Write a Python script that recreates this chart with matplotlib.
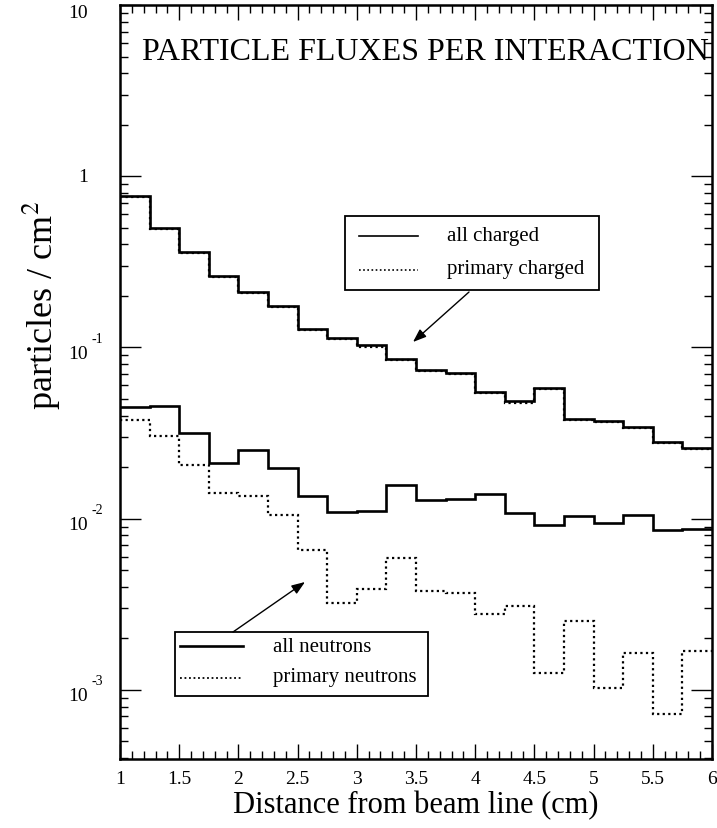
import numpy as np
import matplotlib
matplotlib.use("Agg")
import matplotlib.pyplot as plt
from matplotlib.ticker import MultipleLocator, LogLocator, NullFormatter
from matplotlib.patches import Rectangle, FancyArrowPatch
from matplotlib.lines import Line2D

plt.rcParams['font.family'] = ['Liberation Serif', 'DejaVu Serif']
plt.rcParams['mathtext.fontset'] = 'stix'

bin_edges = [1.0, 1.25, 1.5, 1.75, 2.0, 2.25, 2.5, 2.75, 3.0, 3.25, 3.5,
             3.75, 4.0, 4.25, 4.5, 4.75, 5.0, 5.25, 5.5, 5.75, 6.0]

all_charged = [0.77, 0.50, 0.36, 0.261, 0.21, 0.175, 0.128, 0.114, 0.103, 0.0862,
               0.074, 0.0714, 0.0553, 0.0485, 0.0583, 0.0381, 0.0372, 0.0343, 0.0282, 0.026]
primary_charged = [0.76, 0.495, 0.355, 0.257, 0.207, 0.172, 0.126, 0.112, 0.101, 0.0850,
                   0.0728, 0.0703, 0.0545, 0.0475, 0.0575, 0.0375, 0.0366, 0.0337, 0.0278, 0.0256]
all_neutrons = [0.045, 0.0456, 0.0318, 0.0212, 0.0252, 0.0199, 0.0136, 0.0110, 0.0111, 0.0157,
                0.01285, 0.0131, 0.0140, 0.0108, 0.00918, 0.0103, 0.0094, 0.01055, 0.00858, 0.00875]
primary_neutrons = [0.0376, 0.0304, 0.0205, 0.0142, 0.01356, 0.01045, 0.00653, 0.0032, 0.0039, 0.00591,
                    0.00376, 0.00366, 0.00277, 0.00311, 0.00126, 0.00253, 0.00103, 0.00165, 0.000727, 0.00168]

title = "PARTICLE FLUXES PER INTERACTION"
xlabel = "Distance from beam line (cm)"
ylabel = "particles / cm$^2$"
legend1 = ["all charged", "primary charged"]
legend2 = ["all neutrons", "primary neutrons"]
xticks = [1, 1.5, 2, 2.5, 3, 3.5, 4, 4.5, 5, 5.5, 6]
xticklabels = ["1", "1.5", "2", "2.5", "3", "3.5", "4", "4.5", "5", "5.5", "6"]

W, H = 717, 829
fig = plt.figure(figsize=(W / 100, H / 100), dpi=100)
ax_l, ax_r, ax_b, ax_t = 120, 712, 760, 6
ax = fig.add_axes([ax_l / W, 1 - ax_b / H, (ax_r - ax_l) / W, (ax_b - ax_t) / H])

dot = (0, (1, 1.5))
ax.stairs(primary_charged, bin_edges, color='black', lw=1.6, linestyle=dot, baseline=None)
ax.stairs(all_charged, bin_edges, color='black', lw=1.9, baseline=None)
ax.stairs(all_neutrons, bin_edges, color='black', lw=1.9, baseline=None)
ax.stairs(primary_neutrons, bin_edges, color='black', lw=1.6, linestyle=dot, baseline=None)

ax.set_yscale('log')
ax.set_xlim(1, 6)
ax.set_ylim(3.95e-4, 10)

for s in ax.spines.values():
    s.set_linewidth(1.8)

ax.set_xticks(xticks)
ax.xaxis.set_minor_locator(MultipleLocator(0.1))
ax.set_xticklabels(xticklabels, fontsize=14)
ax.yaxis.set_major_locator(LogLocator(base=10, numticks=20))
ax.yaxis.set_minor_locator(LogLocator(base=10, subs=np.arange(2, 10), numticks=20))
ax.yaxis.set_minor_formatter(NullFormatter())
ax.set_yticklabels([])
ax.tick_params(which='major', direction='in', length=11, width=1.0, top=True, right=True, pad=8)
ax.tick_params(which='minor', direction='in', length=6, width=1.0, top=True, right=True)
ax.tick_params(axis='y', which='major', length=15)


def fig_xy(px, py):
    return px / W, 1 - py / H


# y tick labels drawn as "10" with raised exponent
ylabels = [(10, "10", None, 13), (1, "1", None, 178), (0.1, "10", "-1", None),
           (0.01, "10", "-2", None), (0.001, "10", "-3", None)]
for val, base, exp, ypix in ylabels:
    yd = ax.transData.transform((1, val))[1]
    yp = H - yd if ypix is None else ypix
    if exp is None:
        fig.text(*fig_xy(88, yp), base, fontsize=14, ha='right', va='center')
    else:
        fig.text(*fig_xy(88, yp + 6), base, fontsize=14, ha='right', va='center')
        fig.text(*fig_xy(91, yp - 9), exp, fontsize=10, ha='left', va='center')

ax.set_xlabel(xlabel, fontsize=22, labelpad=2)
fig.text(*fig_xy(42, 305), ylabel, fontsize=26, rotation=90, ha='center', va='center')

fig.text(*fig_xy(425, 53), title, fontsize=23, ha='center', va='center')


def box(x0, y0, x1, y1):
    (fx0, fy0), (fx1, fy1) = fig_xy(x0, y0), fig_xy(x1, y1)
    fig.add_artist(Rectangle((fx0, fy1), fx1 - fx0, fy0 - fy1, transform=fig.transFigure,
                             fill=True, facecolor='white', edgecolor='black', lw=1.3))


def hline(x0, x1, y, ls, lw):
    (fx0, fy), (fx1, _) = fig_xy(x0, y), fig_xy(x1, y)
    fig.add_artist(Line2D([fx0, fx1], [fy, fy], transform=fig.transFigure, color='black',
                          lw=lw, linestyle=ls))


box(345, 217, 599, 291)
hline(359, 418, 237, '-', 1.2)
hline(359, 418, 271, dot, 1.2)
fig.text(*fig_xy(447, 237), legend1[0], fontsize=15, ha='left', va='center')
fig.text(*fig_xy(447, 270), legend1[1], fontsize=15, ha='left', va='center')

box(175, 633, 428, 697)
hline(180, 243, 647, '-', 1.9)
hline(180, 243, 679, dot, 1.3)
fig.text(*fig_xy(273, 647), legend2[0], fontsize=15, ha='left', va='center')
fig.text(*fig_xy(273, 678), legend2[1], fontsize=15, ha='left', va='center')

fig.add_artist(FancyArrowPatch(fig_xy(469, 293), fig_xy(413, 343),
               transform=fig.transFigure, arrowstyle='-|>,head_length=8,head_width=3',
               color='black', lw=1.0, shrinkA=0, shrinkB=0))
fig.add_artist(FancyArrowPatch(fig_xy(233, 633), fig_xy(305, 583),
               transform=fig.transFigure, arrowstyle='-|>,head_length=8,head_width=3',
               color='black', lw=1.0, shrinkA=0, shrinkB=0))

fig.savefig("out.png", dpi=100)
